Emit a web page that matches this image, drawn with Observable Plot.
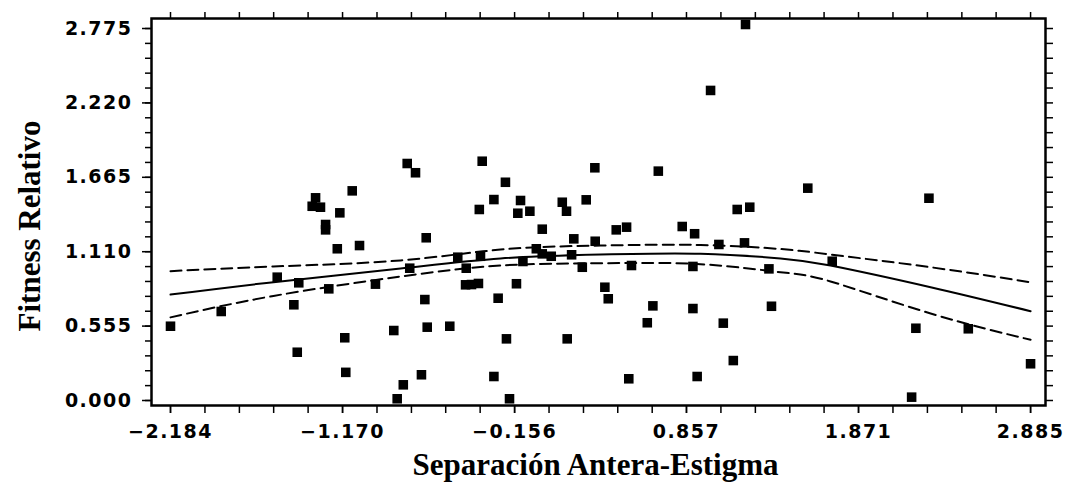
<!DOCTYPE html>
<html>
<head>
<meta charset="utf-8">
<script src="https://cdn.jsdelivr.net/npm/d3@7"></script>
<script src="https://cdn.jsdelivr.net/npm/@observablehq/plot@0.6"></script>
<style>
  html, body { margin: 0; padding: 0; background: white; }
  g[aria-label="y-axis tick label"] text, g[aria-label="x-axis tick label"] text { letter-spacing: 1.5px; }
</style>
</head>
<body>
<div id="chart"></div>
<script>
// Tick values
const xTicksMajor = [-2.184, -1.170, -0.156, 0.857, 1.871, 2.885];
const xTicksMinor = [-2.184, -1.981, -1.778, -1.576, -1.373, -1.170, -0.967, -0.764, -0.562, -0.359,
  -0.156, 0.047, 0.250, 0.452, 0.655, 0.857, 1.060, 1.263, 1.466, 1.668, 1.871, 2.074, 2.277, 2.480, 2.682, 2.885];
const yTicksMajor = [0, 0.555, 1.110, 1.665, 2.220, 2.775];
const yTicksMinor = [0, 0.111, 0.222, 0.333, 0.444, 0.555, 0.666, 0.777, 0.888, 0.999, 1.110, 1.221, 1.332,
  1.443, 1.554, 1.665, 1.776, 1.887, 1.998, 2.109, 2.220, 2.331, 2.442, 2.553, 2.664, 2.775];

// Scatter points: separación antera-estigma vs fitness relativo
const sepX = [-2.184, -1.885, -1.555, -1.428, -1.457, -1.437, -1.329, -1.349, -1.300, -1.270,
  -1.270, -1.186, -1.201, -1.251, -1.113, -1.070, -1.157, -1.151, -0.976, -0.868,
  -0.848, -0.812, -0.789, -0.740, -0.774, -0.677, -0.685, -0.671, -0.705, -0.538,
  -0.491, -0.441, -0.445, -0.410, -0.369, -0.357, -0.347, -0.364, -0.278, -0.253,
  -0.278, -0.210, -0.121, -0.137, -0.066, -0.204, -0.186, -0.145, -0.107, 0.007,
  -0.028, 0.007, 0.060, 0.125, 0.150, 0.180, 0.193, 0.154, 0.243, 0.266,
  0.317, 0.319, 0.376, 0.396, 0.443, 0.504, 0.517, 0.533, 0.626, 0.659,
  0.691, 0.832, 0.905, 0.895, 0.895, 0.920, 1.205, 0.999, 1.048, 1.074,
  1.133, 1.156, 1.230, 1.199, 1.343, 1.358, 1.572, 1.716, 2.286, 2.209,
  2.184, 2.518, 2.885];
const fitness = [0.554, 0.664, 0.920, 0.878, 0.714, 0.360, 1.512, 1.449, 1.442, 1.313,
  1.273, 1.400, 1.132, 0.833, 1.564, 1.156, 0.468, 0.210, 0.868, 0.522,
  0.013, 0.117, 1.768, 1.699, 0.987, 1.214, 0.753, 0.547, 0.192, 0.554,
  1.069, 0.987, 0.863, 0.865, 0.873, 1.076, 1.785, 1.425, 1.499, 0.763,
  0.179, 1.628, 1.492, 1.397, 1.412, 0.460, 0.013, 0.871, 1.037, 1.278,
  1.132, 1.094, 1.076, 1.479, 1.412, 1.087, 1.206, 0.460, 0.994, 1.497,
  1.736, 1.188, 0.845, 0.759, 1.273, 1.293, 0.162, 1.007, 0.580, 0.706,
  1.711, 1.298, 1.244, 1.000, 0.686, 0.179, 2.805, 2.313, 1.164, 0.577,
  0.298, 1.425, 1.442, 1.176, 0.982, 0.703, 1.584, 1.039, 1.509, 0.539,
  0.025, 0.535, 0.274];

// Fitted curve and confidence bands
const curveX = [-2.184, -1.577, -0.828, -0.239, 0.350, 0.940, 1.411, 1.706, 2.296, 2.885];
const fitMid = [0.790, 0.883, 0.985, 1.060, 1.089, 1.095, 1.060, 1.007, 0.845, 0.666];
const fitUpper = [0.965, 1.000, 1.045, 1.126, 1.156, 1.160, 1.130, 1.089, 0.994, 0.882];
const fitLower = [0.620, 0.780, 0.925, 1.007, 1.024, 1.017, 0.957, 0.888, 0.649, 0.453];

const points = sepX.map((x, i) => ({x, y: fitness[i]}));
const mid = curveX.map((x, i) => ({x, y: fitMid[i]}));
const up = curveX.map((x, i) => ({x, y: fitUpper[i]}));
const lo = curveX.map((x, i) => ({x, y: fitLower[i]}));

const tickFont = {fontSize: 19, fontFamily: "DejaVu Sans", fontWeight: "bold"};
const titleFont = {fontSize: 31, fontFamily: "Liberation Serif", fontWeight: "bold", fill: "black"};
const blank = () => "";

const chart = Plot.plot({
  width: 1067,
  height: 499,
  marginLeft: 151,
  marginRight: 22,
  marginTop: 18,
  marginBottom: 94,
  style: {background: "white", color: "black"},
  x: {domain: [-2.296, 2.973], label: null},
  y: {domain: [-0.0373, 2.8497], label: null},
  marks: [
    Plot.axisX(xTicksMinor, {anchor: "bottom", tickSize: 8, tickFormat: blank, label: null, strokeWidth: 1.5}),
    Plot.axisX(xTicksMajor, {anchor: "bottom", tickSize: 8, tickPadding: 11, tickFormat: d3.format(".3f"), label: null, strokeWidth: 1.5, ...tickFont}),
    Plot.axisX(xTicksMinor, {anchor: "top", tickSize: 7, tickFormat: blank, label: null, strokeWidth: 1.5}),
    Plot.axisY(yTicksMinor, {anchor: "left", tickSize: 6, tickFormat: blank, label: null, strokeWidth: 1.5}),
    Plot.axisY(yTicksMajor, {anchor: "left", tickSize: 9, tickPadding: 10, tickFormat: d3.format(".3f"), label: null, strokeWidth: 1.5, ...tickFont}),
    Plot.axisY(yTicksMinor, {anchor: "right", tickSize: 7, tickFormat: blank, label: null, strokeWidth: 1.5}),
    Plot.line(up, {x: "x", y: "y", curve: "natural", stroke: "black", strokeWidth: 2, strokeDasharray: "11,6"}),
    Plot.line(lo, {x: "x", y: "y", curve: "natural", stroke: "black", strokeWidth: 2, strokeDasharray: "11,6"}),
    Plot.line(mid, {x: "x", y: "y", curve: "natural", stroke: "black", strokeWidth: 2}),
    Plot.dot(points, {x: "x", y: "y", symbol: "square", r: 5.4, fill: "black", stroke: null}),
    Plot.frame({stroke: "black", strokeWidth: 2.5}),
    Plot.text(["Fitness Relativo"], {frameAnchor: "left", textAnchor: "middle", lineAnchor: "middle", dx: -121, dy: 14, rotate: -90, ...titleFont}),
    Plot.text(["Separación Antera-Estigma"], {frameAnchor: "bottom", textAnchor: "middle", lineAnchor: "middle", dx: -3, dy: 60, ...titleFont})
  ]
});
document.getElementById("chart").appendChild(chart);
</script>
</body>
</html>
